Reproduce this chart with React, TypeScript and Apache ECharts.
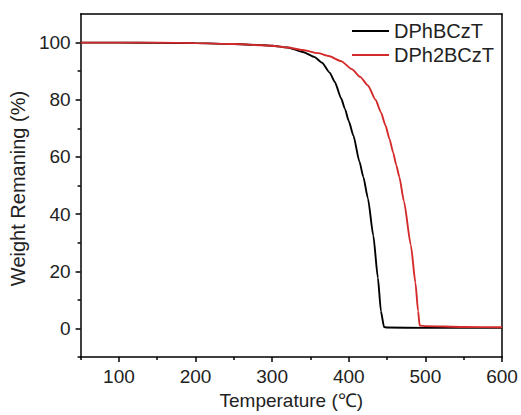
import React, { useEffect, useRef } from "react";
import * as echarts from "echarts";

const blackTemps = [50, 100, 150, 200, 250, 280, 300, 320, 340, 355, 365, 375, 382, 390, 395, 400, 406, 414, 419, 425, 432, 438, 442, 446, 450, 500, 550, 600];
const blackWeights = [100, 100, 99.9, 99.8, 99.5, 99.2, 98.9, 98.3, 96.7, 95.0, 93.0, 89.5, 86.1, 80.5, 76.8, 72.6, 67.5, 58.3, 53, 45.5, 32.5, 17.7, 6, 0.5, 0.3, 0.2, 0.2, 0.2];

const redTemps = [50, 100, 150, 200, 250, 300, 320, 340, 360, 374, 390, 404, 415, 425, 435, 442, 448, 453, 458, 462, 466, 472, 481, 487, 490.5, 492.5, 500, 550, 600];
const redWeights = [100, 100, 100, 99.8, 99.5, 98.9, 98.3, 97.4, 96.3, 95.3, 93.5, 90.7, 88.0, 85.0, 80.0, 75.6, 71.0, 66.4, 61.5, 57.1, 53.0, 44.5, 29.2, 16.0, 6.0, 1.0, 0.8, 0.5, 0.4];

const seriesNames = ["DPhBCzT", "DPh2BCzT"];
const xMajor = [100, 200, 300, 400, 500, 600];
const xMinor = [50, 150, 250, 350, 450, 550];
const yMajor = [0, 20, 40, 60, 80, 100];
const yMinor = [-10, 10, 30, 50, 70, 90];

const FONT = "'Liberation Sans', Arial, Helvetica, sans-serif";
const TEXT = "#222";

export default function App() {
  const ref = useRef<HTMLDivElement>(null);
  useEffect(() => {
    document.body.style.margin = "0";
    if (!ref.current) return;
    const chart = echarts.init(ref.current, undefined, { renderer: "svg" });
    const axisLine = { show: true, onZero: false, lineStyle: { color: "#000", width: 1.5 } };
    const noLine = { show: false, onZero: false };
    const pair = (xs: number[], ys: number[]) => xs.map((x, i) => [x, ys[i]]);
    chart.setOption({
      animation: false,
      backgroundColor: "#fff",
      textStyle: { fontFamily: FONT },
      grid: { left: 75.5, right: 19, top: 14, bottom: 55 },
      legend: {
        orient: "vertical",
        left: 347,
        top: 16,
        itemWidth: 37,
        itemHeight: 2,
        itemGap: 4,
        icon: "rect",
        textStyle: { fontSize: 20, color: TEXT, fontFamily: FONT, lineHeight: 20 },
        data: seriesNames,
      },
      xAxis: [
        {
          type: "value",
          min: 50,
          max: 600,
          position: "bottom",
          axisLine,
          splitLine: { show: false },
          axisTick: { show: true, customValues: xMajor, length: 5, lineStyle: { color: "#000", width: 1.5 } },
          axisLabel: { customValues: xMajor, fontSize: 19, color: TEXT, fontFamily: FONT, margin: 10 },
          name: "Temperature (℃)",
          nameLocation: "middle",
          nameGap: 34,
          nameTextStyle: { fontSize: 19, color: TEXT, fontFamily: FONT },
        },
        {
          type: "value",
          min: 50,
          max: 600,
          position: "bottom",
          axisLine: noLine,
          splitLine: { show: false },
          axisTick: { show: true, customValues: xMinor, length: 3, lineStyle: { color: "#000", width: 1.5 } },
          axisLabel: { show: false },
        },
        {
          type: "value",
          min: 50,
          max: 600,
          position: "top",
          axisLine,
          splitLine: { show: false },
          axisTick: { show: false },
          axisLabel: { show: false },
        },
      ],
      yAxis: [
        {
          type: "value",
          min: -10,
          max: 110,
          position: "left",
          axisLine,
          splitLine: { show: false },
          axisTick: { show: true, customValues: yMajor, length: 5, lineStyle: { color: "#000", width: 1.5 } },
          axisLabel: { customValues: yMajor, fontSize: 19, color: TEXT, fontFamily: FONT, margin: 10 },
          name: "Weight Remaning (%)",
          nameLocation: "middle",
          nameGap: 46,
          nameTextStyle: { fontSize: 20, color: TEXT, fontFamily: FONT, padding: [0, 6, 0, 0] },
        },
        {
          type: "value",
          min: -10,
          max: 110,
          position: "left",
          axisLine: noLine,
          splitLine: { show: false },
          axisTick: { show: true, customValues: yMinor, length: 3, lineStyle: { color: "#000", width: 1.5 } },
          axisLabel: { show: false },
        },
        {
          type: "value",
          min: -10,
          max: 110,
          position: "right",
          axisLine,
          splitLine: { show: false },
          axisTick: { show: false },
          axisLabel: { show: false },
        },
      ],
      series: [
        {
          name: seriesNames[0],
          type: "line",
          data: pair(blackTemps, blackWeights),
          showSymbol: false,
          symbol: "none",
          lineStyle: { color: "#000", width: 1.9 },
          itemStyle: { color: "#000" },
          smooth: 0.2,
          smoothMonotone: "x",
        },
        {
          name: seriesNames[1],
          type: "line",
          data: pair(redTemps, redWeights),
          showSymbol: false,
          symbol: "none",
          lineStyle: { color: "#d42a2a", width: 1.9 },
          itemStyle: { color: "#d42a2a" },
          smooth: 0.2,
          smoothMonotone: "x",
        },
      ],
    });
    return () => chart.dispose();
  }, []);
  return <div ref={ref} style={{ width: 521, height: 415 }} />;
}
